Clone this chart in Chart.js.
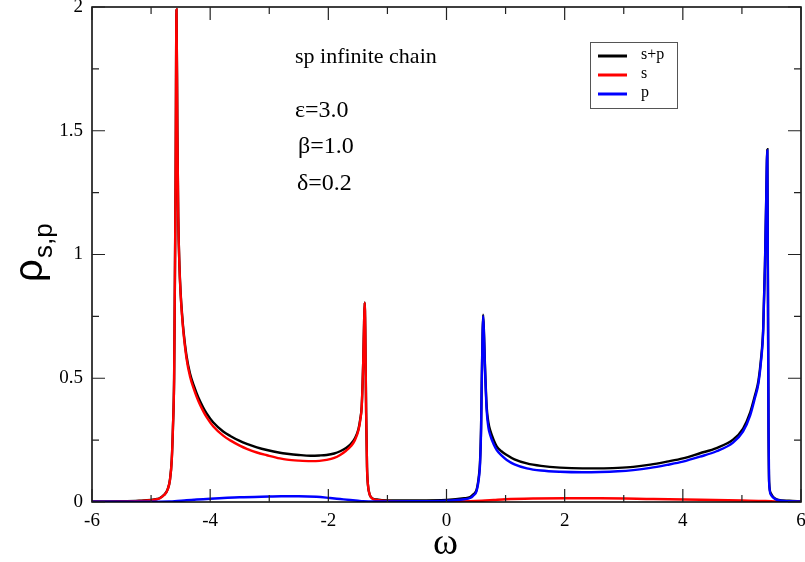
<!DOCTYPE html>
<html>
<head>
<meta charset="utf-8">
<script src="https://cdn.jsdelivr.net/npm/chart.js@4.4.1/dist/chart.umd.min.js"></script>
<style>
  html, body { margin: 0; padding: 0; background: #fff; }
  #wrap { width: 805px; height: 562px; }
</style>
</head>
<body>
<div id="wrap"><canvas id="dosChart"></canvas></div>
<script>
// tick labels
const xTicks = [-6, -4, -2, 0, 2, 4, 6]
const yTicks = ['0', '0.5', '1', '1.5', '2']

// s+p (total) density
const spX = [-6, -5.5, -5.2, -5.0, -4.9, -4.85, -4.78, -4.72, -4.68, -4.65, -4.63, -4.61, -4.60, -4.585, -4.57, -4.555, -4.54, -4.52, -4.50, -4.475, -4.45, -4.40, -4.34, -4.27, -4.20, -4.12, -4.06, -3.95, -3.78, -3.66, -3.50, -3.38, -3.21, -3.04, -2.82, -2.70, -2.50, -2.30, -2.15, -2.03, -1.90, -1.80, -1.70, -1.62, -1.55, -1.49, -1.46, -1.435, -1.41, -1.395, -1.385, -1.375, -1.36, -1.345, -1.33, -1.30, -1.26, -1.18, -1.0, -0.5, 0, 0.3, 0.4, 0.45, 0.51, 0.55, 0.567, 0.585, 0.596, 0.608, 0.62, 0.635, 0.65, 0.68, 0.71, 0.74, 0.80, 0.85, 0.93, 1.02, 1.15, 1.36, 1.6, 1.92, 2.3, 2.6, 2.9, 3.16, 3.45, 3.73, 4.0, 4.29, 4.57, 4.85, 5.02, 5.14, 5.22, 5.28, 5.32, 5.36, 5.39, 5.41, 5.43, 5.44, 5.45, 5.46, 5.49, 5.53, 5.6, 5.8, 6.0]
const spY = [0.002, 0.003, 0.005, 0.008, 0.012, 0.016, 0.029, 0.051, 0.091, 0.172, 0.302, 0.502, 0.802, 1.30, 1.99, 1.5, 1.15, 0.955, 0.845, 0.757, 0.688, 0.59, 0.518, 0.466, 0.422, 0.383, 0.358, 0.322, 0.285, 0.267, 0.247, 0.235, 0.221, 0.21, 0.199, 0.195, 0.19, 0.187, 0.188, 0.19, 0.196, 0.205, 0.218, 0.234, 0.257, 0.295, 0.335, 0.388, 0.562, 0.722, 0.806, 0.70, 0.36, 0.14, 0.07, 0.03, 0.016, 0.01, 0.006, 0.006, 0.008, 0.015, 0.02, 0.03, 0.05, 0.11, 0.16, 0.30, 0.48, 0.65, 0.757, 0.68, 0.56, 0.385, 0.32, 0.29, 0.25, 0.225, 0.205, 0.19, 0.172, 0.156, 0.146, 0.139, 0.136, 0.136, 0.138, 0.142, 0.151, 0.163, 0.176, 0.197, 0.218, 0.252, 0.297, 0.362, 0.43, 0.49, 0.57, 0.70, 0.96, 1.21, 1.425, 0.9, 0.3, 0.085, 0.035, 0.02, 0.01, 0.005, 0.003]

// s density
const sX = [-6, -5.5, -5.2, -5.0, -4.9, -4.85, -4.78, -4.72, -4.68, -4.65, -4.63, -4.61, -4.60, -4.585, -4.57, -4.555, -4.54, -4.52, -4.50, -4.475, -4.45, -4.40, -4.34, -4.27, -4.20, -4.12, -4.06, -3.95, -3.78, -3.66, -3.50, -3.38, -3.21, -3.04, -2.82, -2.70, -2.50, -2.30, -2.15, -2.03, -1.90, -1.80, -1.70, -1.62, -1.55, -1.49, -1.46, -1.435, -1.41, -1.395, -1.385, -1.375, -1.36, -1.345, -1.33, -1.30, -1.26, -1.18, -1.0, -0.5, 0, 0.4, 0.6, 0.8, 1.0, 1.5, 2.0, 2.6, 3.5, 4.3, 5.0, 5.4, 5.6, 6.0]
const sY = [0.001, 0.002, 0.004, 0.007, 0.011, 0.015, 0.028, 0.05, 0.09, 0.17, 0.30, 0.50, 0.80, 1.30, 1.99, 1.5, 1.15, 0.95, 0.84, 0.75, 0.68, 0.58, 0.506, 0.452, 0.408, 0.368, 0.343, 0.306, 0.268, 0.249, 0.228, 0.215, 0.2, 0.189, 0.176, 0.171, 0.167, 0.165, 0.166, 0.170, 0.178, 0.190, 0.207, 0.225, 0.25, 0.29, 0.33, 0.385, 0.56, 0.72, 0.805, 0.70, 0.36, 0.14, 0.07, 0.03, 0.015, 0.008, 0.004, 0.002, 0.002, 0.003, 0.005, 0.008, 0.011, 0.014, 0.015, 0.015, 0.012, 0.009, 0.006, 0.004, 0.002, 0.001]

// p density
const pX = [-6, -5, -4.7, -4.6, -4.4, -4.0, -3.5, -3.0, -2.8, -2.5, -2.2, -1.97, -1.8, -1.63, -1.5, -1.41, -1.2, -0.5, 0, 0.3, 0.4, 0.45, 0.51, 0.55, 0.567, 0.585, 0.596, 0.608, 0.62, 0.635, 0.65, 0.68, 0.71, 0.74, 0.80, 0.85, 0.93, 1.02, 1.15, 1.36, 1.6, 1.92, 2.3, 2.6, 2.9, 3.16, 3.45, 3.73, 4.0, 4.29, 4.57, 4.85, 5.02, 5.14, 5.22, 5.28, 5.32, 5.36, 5.39, 5.41, 5.43, 5.44, 5.45, 5.46, 5.49, 5.53, 5.6, 5.8, 6.0]
const pY = [0.001, 0.001, 0.002, 0.003, 0.007, 0.013, 0.019, 0.022, 0.023, 0.023, 0.021, 0.016, 0.012, 0.008, 0.005, 0.003, 0.002, 0.003, 0.005, 0.011, 0.016, 0.025, 0.045, 0.10, 0.15, 0.29, 0.47, 0.64, 0.752, 0.67, 0.55, 0.37, 0.30, 0.27, 0.232, 0.21, 0.188, 0.17, 0.152, 0.136, 0.127, 0.122, 0.12, 0.121, 0.124, 0.129, 0.138, 0.15, 0.163, 0.183, 0.205, 0.24, 0.285, 0.35, 0.42, 0.48, 0.56, 0.69, 0.95, 1.2, 1.42, 0.9, 0.3, 0.08, 0.03, 0.018, 0.008, 0.003, 0.002]

const annot = ['sp infinite chain', 'ε=3.0', 'β=1.0', 'δ=0.2']

function pts(xs, ys) { return xs.map((x, i) => ({ x: x, y: ys[i] })) }

const serif = "'Liberation Serif', 'DejaVu Serif', serif"
const sans = "'Liberation Sans', Arial, sans-serif"

// frame, inward ticks, texts, legend
const decor = {
  id: 'decor',
  afterDraw(chart) {
    const ctx = chart.ctx
    const a = chart.chartArea
    const xs = chart.scales.x, ys = chart.scales.y
    ctx.save()
    ctx.strokeStyle = '#000'
    ctx.lineWidth = 1.5
    ctx.strokeRect(a.left, a.top, a.right - a.left, a.bottom - a.top)

    ctx.lineWidth = 1.2
    ctx.strokeStyle = '#222'
    ctx.beginPath()
    for (let v = -6; v <= 6; v += 1) {
      const px = xs.getPixelForValue(v)
      const len = (v % 2 === 0) ? 13 : 7
      ctx.moveTo(px, a.bottom); ctx.lineTo(px, a.bottom - len)
      ctx.moveTo(px, a.top); ctx.lineTo(px, a.top + len)
    }
    for (let k = 0; k <= 8; k++) {
      const v = k * 0.25
      const py = ys.getPixelForValue(v)
      const len = (k % 2 === 0) ? 13 : 7
      ctx.moveTo(a.left, py); ctx.lineTo(a.left + len, py)
      ctx.moveTo(a.right, py); ctx.lineTo(a.right - len, py)
    }
    ctx.stroke()

    // annotations
    ctx.fillStyle = '#000'
    ctx.textBaseline = 'middle'
    ctx.textAlign = 'left'
    ctx.font = '22px ' + serif
    ctx.fillText(annot[0], 295, 57)
    ctx.font = '24px ' + serif
    ctx.fillText(annot[1], 295, 111)
    ctx.fillText(annot[2], 298, 147)
    ctx.fillText(annot[3], 297, 184)

    // legend
    ctx.strokeStyle = '#555'
    ctx.lineWidth = 1
    ctx.strokeRect(590.5, 42.5, 87, 66)
    ctx.font = '16px ' + serif
    chart.data.datasets.forEach((ds, i) => {
      const y = 56 + i * 19
      ctx.strokeStyle = ds.borderColor
      ctx.lineWidth = 3
      ctx.beginPath(); ctx.moveTo(598, y); ctx.lineTo(627, y); ctx.stroke()
      ctx.fillText(ds.label, 641, y - 1)
    })

    // axis titles
    ctx.textAlign = 'center'
    ctx.font = '38px ' + serif
    ctx.fillText('ω', (a.left + a.right) / 2 - 1, 544)

    ctx.translate(30, 270)
    ctx.rotate(-Math.PI / 2)
    ctx.textAlign = 'left'
    ctx.textBaseline = 'alphabetic'
    ctx.font = '40px ' + sans
    ctx.fillText('ρ', -12, 12)
    ctx.font = '26px ' + sans
    ctx.fillText('s,p', 12, 22)
    ctx.restore()
  }
}

new Chart(document.getElementById('dosChart'), {
  type: 'line',
  data: {
    datasets: [
      { label: 's+p', data: pts(spX, spY), borderColor: '#000000', order: 3 },
      { label: 's', data: pts(sX, sY), borderColor: '#ff0000', order: 2 },
      { label: 'p', data: pts(pX, pY), borderColor: '#0000ff', order: 1 }
    ]
  },
  options: {
    responsive: true,
    maintainAspectRatio: false,
    animation: false,
    layout: { padding: { top: 7, right: 4, left: 0, bottom: 0 } },
    elements: {
      point: { radius: 0 },
      line: { borderWidth: 2.4, cubicInterpolationMode: 'monotone', fill: false }
    },
    plugins: { legend: { display: false }, tooltip: { enabled: false } },
    scales: {
      x: {
        type: 'linear', min: -6, max: 6,
        grid: { display: false, drawTicks: false },
        border: { display: false },
        afterBuildTicks: s => { s.ticks = xTicks.map(v => ({ value: v })) },
        afterFit: s => { s.height = 60; s.paddingLeft = 0; s.paddingRight = 0 },
        ticks: { color: '#000', font: { family: serif, size: 19 }, padding: 8, maxRotation: 0, autoSkip: false, callback: v => String(v) }
      },
      y: {
        type: 'linear', min: 0, max: 2,
        grid: { display: false, drawTicks: false },
        border: { display: false },
        afterBuildTicks: s => { s.ticks = yTicks.map(t => ({ value: parseFloat(t) })) },
        afterFit: s => { s.width = 92; s.paddingTop = 0; s.paddingBottom = 0 },
        ticks: { color: '#000', font: { family: serif, size: 19 }, padding: 9, autoSkip: false, callback: v => yTicks.find(t => parseFloat(t) === v) }
      }
    }
  },
  plugins: [decor]
})
</script>
</body>
</html>
